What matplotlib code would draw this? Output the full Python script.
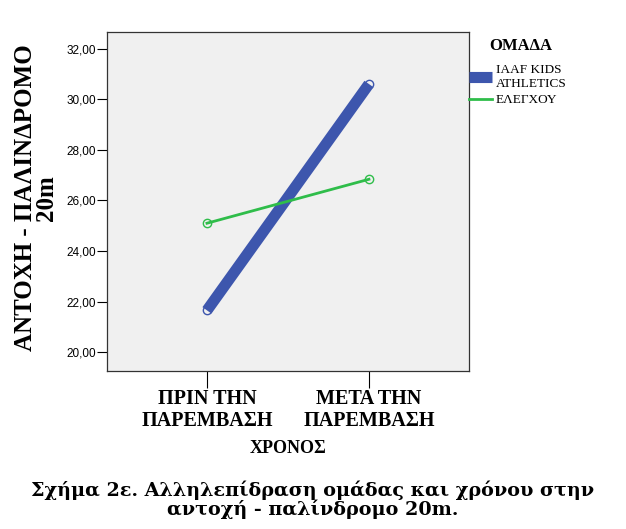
import numpy as np
import matplotlib
matplotlib.use("Agg")
import matplotlib.pyplot as plt

# data
time_labels = ["ΠΡΙΝ ΤΗΝ\nΠΑΡΕΜΒΑΣΗ", "ΜΕΤΑ ΤΗΝ\nΠΑΡΕΜΒΑΣΗ"]
group_names = ["IAAF KIDS\nATHLETICS", "ΕΛΕΓΧΟΥ"]
iaaf_means = [21.65, 30.61]
control_means = [25.10, 26.84]
yticks = [20, 22, 24, 26, 28, 30, 32]

blue = "#3d56ad"
green = "#2fbd4a"
serif = ["Liberation Serif", "DejaVu Serif"]

fig = plt.figure(figsize=(6.26, 5.29), dpi=100)
ax = fig.add_axes([0.171, 0.2987, 0.578, 0.6408])
ax.set_facecolor("#f0f0f0")

x = np.arange(len(time_labels))
ax.plot(x, iaaf_means, color=blue, lw=8, solid_capstyle="butt",
        marker="o", ms=6, mfc="none", mec=blue, mew=1,
        label=group_names[0])
ax.plot(x, control_means, color=green, lw=2,
        marker="o", ms=6, mfc="none", mec=green, mew=1,
        label=group_names[1])

ax.set_xlim(-0.617, 1.617)
ax.set_ylim(19.25, 32.67)
ax.set_yticks(yticks)
ax.set_yticklabels([("%.2f" % v).replace(".", ",") for v in yticks],
                   family="Liberation Sans", fontsize=8.5)
ax.set_xticks(x)
ax.set_xticklabels(time_labels, family=serif, fontweight="bold", fontsize=14.5,
                   linespacing=1.15)
ax.tick_params(axis="y", length=7, width=0.8, pad=1)
ax.tick_params(axis="x", length=12, width=0.8, pad=1)
for sp in ax.spines.values():
    sp.set_linewidth(0.9)
    sp.set_color("#333333")

ax.set_xlabel("ΧΡΟΝΟΣ", family=serif, fontweight="bold", fontsize=13, labelpad=6)
ax.set_ylabel("ΑΝΤΟΧΗ - ΠΑΛΙΝΔΡΟΜΟ\n20m", family=serif, fontweight="bold",
              fontsize=18, linespacing=0.9, va="center")
ax.yaxis.set_label_coords(-0.196, 0.51)

leg = ax.legend(loc="upper left", bbox_to_anchor=(1.0, 0.905), frameon=False,
                handlelength=1.75, handletextpad=0.3,
                borderaxespad=0, borderpad=0, labelspacing=0.3,
                prop={"family": serif, "size": 9.5})
for h in leg.get_lines():
    h.set_marker("")
fig.text(489 / 626, 1 - 46 / 529, "ΟΜΑΔΑ", ha="left", va="center",
         family=serif, fontweight="bold", fontsize=12)

fig.text(0.5, 0.055, "Σχήμα 2ε. Αλληλεπίδραση ομάδας και χρόνου στην\nαντοχή - παλίνδρομο 20m.",
         ha="center", va="center", family=["DejaVu Serif"], fontweight="bold",
         fontsize=13.8, linespacing=1.0)

fig.savefig("out.png", dpi=100)
